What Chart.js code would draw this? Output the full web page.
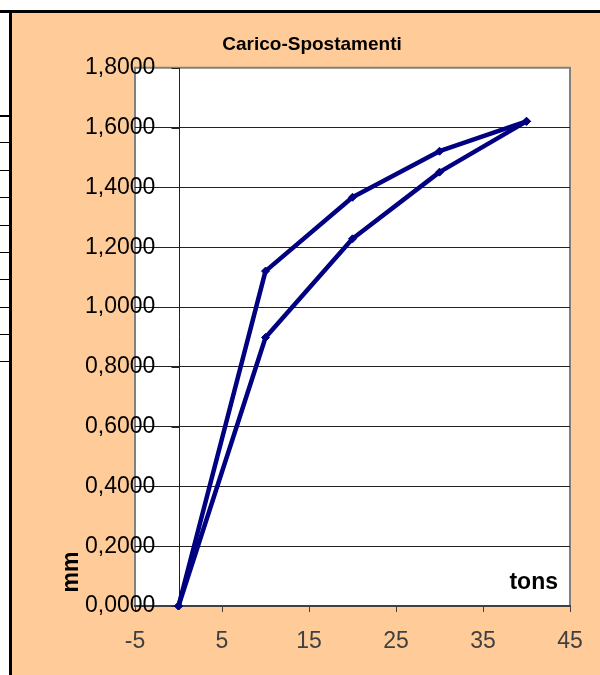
<!DOCTYPE html>
<html>
<head>
<meta charset="utf-8">
<script src="https://cdn.jsdelivr.net/npm/chart.js@4"></script>
<style>
body{margin:0;width:600px;height:675px;position:relative;overflow:hidden;background:#fff;}
.cell{position:absolute;left:0;width:10px;height:1px;background:#000;}
#topline{position:absolute;left:0;top:10px;width:600px;height:3px;background:#000;}
#leftline{position:absolute;left:9px;top:10px;width:3px;height:665px;background:#000;}
#wrap{position:absolute;left:12px;top:13px;width:588px;height:662px;background:#FFCC99;}
</style>
</head>
<body>
<div id="topline"></div>
<div id="leftline"></div>
<div id="wrap"><canvas id="myChart" width="588" height="662"></canvas></div>
<script>
// bits of the spreadsheet grid visible on the left
const cellRows=[115,142,170,197,225,252,279,307,334,361];
cellRows.forEach((y,i)=>{
  const d=document.createElement('div');
  d.className='cell';
  d.style.top=y+'px';
  if(i===0) d.style.height='2px';
  document.body.appendChild(d);
});

const loadTons=[0,10,20,30,40];
const loadMm=[0,0.898,1.228,1.451,1.621];
const unloadTons=[40,30,20,10,0];
const unloadMm=[1.621,1.521,1.367,1.12,0];
const xTicks=[-5,5,15,25,35,45];
const yTicks=[0,0.2,0.4,0.6,0.8,1.0,1.2,1.4,1.6,1.8];

Chart.defaults.font.family='"Liberation Sans", Arial, sans-serif';

const toPoints=(xs,ys)=>xs.map((x,i)=>({x:x,y:ys[i]}));

const plotArea={
  id:'plotArea',
  beforeDraw(chart){
    const {ctx,chartArea:a}=chart;
    ctx.save();
    ctx.fillStyle='#fff';
    ctx.fillRect(a.left,a.top,a.right-a.left,a.bottom-a.top);
    ctx.strokeStyle='#808080';
    ctx.lineWidth=2;
    ctx.beginPath();
    ctx.moveTo(a.left,a.bottom);
    ctx.lineTo(a.left,a.top);
    ctx.lineTo(a.right,a.top);
    ctx.lineTo(a.right,a.bottom);
    ctx.stroke();
    ctx.restore();
  },
  beforeDatasetsDraw(chart){
    const {ctx,chartArea:a,scales}=chart;
    const x0=Math.round(scales.x.getPixelForValue(0))+0.5;
    ctx.save();
    ctx.strokeStyle='#222';
    ctx.lineWidth=1;
    ctx.beginPath();
    ctx.moveTo(x0,a.top);
    ctx.lineTo(x0,a.bottom);
    yTicks.forEach(v=>{
      const y=Math.round(scales.y.getPixelForValue(v))+0.5;
      ctx.moveTo(x0-8,y);
      ctx.lineTo(x0,y);
    });
    ctx.stroke();
    ctx.restore();
  },
  afterDraw(chart){
    const {ctx,chartArea:a}=chart;
    ctx.save();
    ctx.fillStyle='#000';
    ctx.font='bold 23px "Liberation Sans", Arial, sans-serif';
    ctx.textAlign='right';
    ctx.textBaseline='alphabetic';
    ctx.fillText('tons',a.right-12,a.bottom-17);
    ctx.translate(a.left-63,a.bottom-34);
    ctx.rotate(-Math.PI/2);
    ctx.textAlign='center';
    ctx.textBaseline='middle';
    ctx.fillText('mm',0,0);
    ctx.restore();
  }
};

const myChart=new Chart(document.getElementById('myChart'),{
  type:'scatter',
  data:{
    datasets:[
      {label:'carico',data:toPoints(loadTons,loadMm)},
      {label:'scarico',data:toPoints(unloadTons,unloadMm)}
    ]
  },
  options:{
    responsive:false,
    animation:false,
    devicePixelRatio:1,
    layout:{padding:{left:12}},
    elements:{
      line:{borderColor:'#000080',borderWidth:4.5,tension:0,borderJoinStyle:'round'},
      point:{pointStyle:'rectRot',radius:4,backgroundColor:'#000080',borderColor:'#000080',borderWidth:1}
    },
    datasets:{scatter:{showLine:true,clip:false,borderColor:'#000080',backgroundColor:'#000080'}},
    plugins:{
      legend:{display:false},
      tooltip:{enabled:false},
      title:{
        display:true,
        text:'Carico-Spostamenti',
        color:'#000',
        font:{size:19,weight:'bold'},
        padding:{top:20,bottom:12}
      }
    },
    scales:{
      x:{
        type:'linear',
        min:-5,max:45,
        afterBuildTicks:s=>{s.ticks=xTicks.map(v=>({value:v}));},
        afterFit:s=>{s.height=69;},
        grid:{drawOnChartArea:false,drawTicks:true,tickLength:6,color:'#404040'},
        border:{display:true,color:'#404040',width:2},
        ticks:{color:'#404040',font:{size:23},padding:16,maxRotation:0}
      },
      y:{
        type:'linear',
        min:0,max:1.8,
        afterBuildTicks:s=>{s.ticks=yTicks.map(v=>({value:v}));},
        afterFit:s=>{s.width=111;},
        grid:{
          drawTicks:false,
          color:c=>(c.tick&&(c.tick.value===0||c.tick.value===1.8))?'rgba(0,0,0,0)':'#222'
        },
        border:{display:false},
        // mirrored so the labels may run into the plot area, right-aligned
        ticks:{mirror:true,crossAlign:'far',color:'#000',font:{size:23},padding:-50,
          callback:v=>v.toFixed(4).replace('.',',')}
      },
      y2:{
        type:'linear',
        position:'right',
        display:true,
        afterFit:s=>{s.width=30;},
        grid:{display:false},
        border:{display:false},
        ticks:{display:false}
      }
    }
  },
  plugins:[plotArea]
});
</script>
</body>
</html>
